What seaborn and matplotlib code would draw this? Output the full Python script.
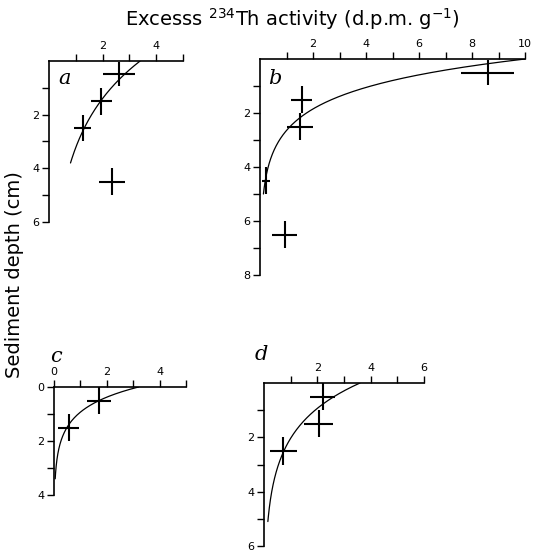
import numpy as np
import pandas as pd
import matplotlib
matplotlib.use("Agg")
import matplotlib.pyplot as plt
import seaborn as sns

sns.set_theme(style="ticks")
plt.rcParams['font.family'] = ['DejaVu Sans']
plt.rcParams['text.color'] = 'black'
plt.rcParams['xtick.color'] = 'black'
plt.rcParams['ytick.color'] = 'black'
plt.rcParams['axes.labelcolor'] = 'black'

# ---- data ----
panels = ["a", "b", "c", "d"]

# panel a
a_activity = [2.6, 1.95, 1.25, 2.35]
a_depth = [0.5, 1.5, 2.5, 4.5]
a_xerr = [0.6, 0.4, 0.3, 0.47]
a_yerr = [0.45, 0.5, 0.5, 0.5]
a_fit = [3.4, 0.38, 3.8]   # surface activity, decay constant, max depth

# panel b
b_activity = [8.6, 1.58, 1.5, 0.22, 0.94]
b_depth = [0.5, 1.5, 2.5, 4.5, 6.5]
b_xerr = [1.0, 0.4, 0.5, 0.15, 0.47]
b_yerr = [0.45, 0.5, 0.5, 0.5, 0.5]
b_fit = [10.0, 0.87, 5.0]

# panel c
c_activity = [1.7, 0.55]
c_depth = [0.5, 1.5]
c_xerr = [0.45, 0.4]
c_yerr = [0.5, 0.5]
c_fit = [3.2, 1.25, 3.4]

# panel d
d_activity = [2.2, 2.05, 0.72]
d_depth = [0.5, 1.5, 2.5]
d_xerr = [0.48, 0.55, 0.5]
d_yerr = [0.5, 0.5, 0.5]
d_fit = [3.6, 0.63, 5.1]

xticks = {"a": [1, 2, 3, 4, 5], "b": list(range(1, 11)), "c": [0, 1, 2, 3, 4, 5], "d": [1, 2, 3, 4, 5, 6]}
xlabels = {"a": ["", "2", "", "4", ""], "b": ["", "2", "", "4", "", "6", "", "8", "", "10"],
           "c": ["0", "", "2", "", "4", ""], "d": ["", "2", "", "4", "", "6"]}
yticks = {"a": [1, 2, 3, 4, 5, 6], "b": list(range(1, 9)), "c": [0, 1, 2, 3, 4], "d": [1, 2, 3, 4, 5, 6]}
ylabels = {"a": ["", "2", "", "4", "", "6"], "b": ["", "2", "", "4", "", "6", "", "8"],
           "c": ["0", "", "2", "", "4"], "d": ["", "2", "", "4", "", "6"]}
xlims = {"a": 5, "b": 10, "c": 5, "d": 6}
ylims = {"a": 6, "b": 8, "c": 4, "d": 6}

data = {
    "a": (a_activity, a_depth, a_xerr, a_yerr, a_fit),
    "b": (b_activity, b_depth, b_xerr, b_yerr, b_fit),
    "c": (c_activity, c_depth, c_xerr, c_yerr, c_fit),
    "d": (d_activity, d_depth, d_xerr, d_yerr, d_fit),
}

W, H = 536, 554
fig = plt.figure(figsize=(W / 100, H / 100), dpi=100)

# axes boxes in pixels: x0, x1, ytop, ybottom
boxes = {"a": (49, 183, 61, 222), "b": (260, 525, 59, 275),
         "c": (54, 186, 387, 495), "d": (264, 424, 383, 546)}
letter_pos = {"a": (58, 78), "b": (268, 78), "c": (50, 356), "d": (255, 354)}

for p in panels:
    x0, x1, yt, yb = boxes[p]
    ax = fig.add_axes([x0 / W, 1 - yb / H, (x1 - x0) / W, (yb - yt) / H])
    act, dep, xe, ye, fit = data[p]
    A, k, zmax = fit
    z = np.linspace(0, zmax, 200)
    curve = pd.DataFrame({"depth": z, "activity": A * np.exp(-k * z)})
    sns.lineplot(data=curve, x="activity", y="depth", sort=False, estimator=None,
                 color="black", linewidth=0.9, ax=ax)
    ax.errorbar(act, dep, xerr=xe, yerr=ye, fmt="none", ecolor="black",
                elinewidth=1.5, capsize=0)
    ax.set_xlim(0, xlims[p])
    ax.set_ylim(ylims[p], 0)
    ax.xaxis.tick_top()
    ax.set_xticks(xticks[p])
    ax.set_xticklabels(xlabels[p])
    ax.set_yticks(yticks[p])
    ax.set_yticklabels(ylabels[p])
    ax.tick_params(axis="both", labelsize=8, length=5, width=1, color="black",
                   labelcolor="black", pad=2)
    for s in ["right", "bottom"]:
        ax.spines[s].set_visible(False)
    for s in ["left", "top"]:
        ax.spines[s].set_linewidth(1.2)
        ax.spines[s].set_color("black")
    ax.set_xlabel("")
    ax.set_ylabel("")
    ax.patch.set_alpha(0)
    lx, ly = letter_pos[p]
    fig.text(lx / W, 1 - ly / H, p, fontsize=15, style="italic",
             family="DejaVu Serif", ha="left", va="center", color="black")

fig.text(292 / W, 1 - 19 / H, r"Excesss $^{234}$Th activity (d.p.m. g$^{-1}$)",
         fontsize=14, ha="center", va="center", color="black")
fig.text(15 / W, 1 - 275 / H, "Sediment depth (cm)", fontsize=14,
         rotation=90, ha="center", va="center", color="black")

fig.savefig("out.png", dpi=100)
